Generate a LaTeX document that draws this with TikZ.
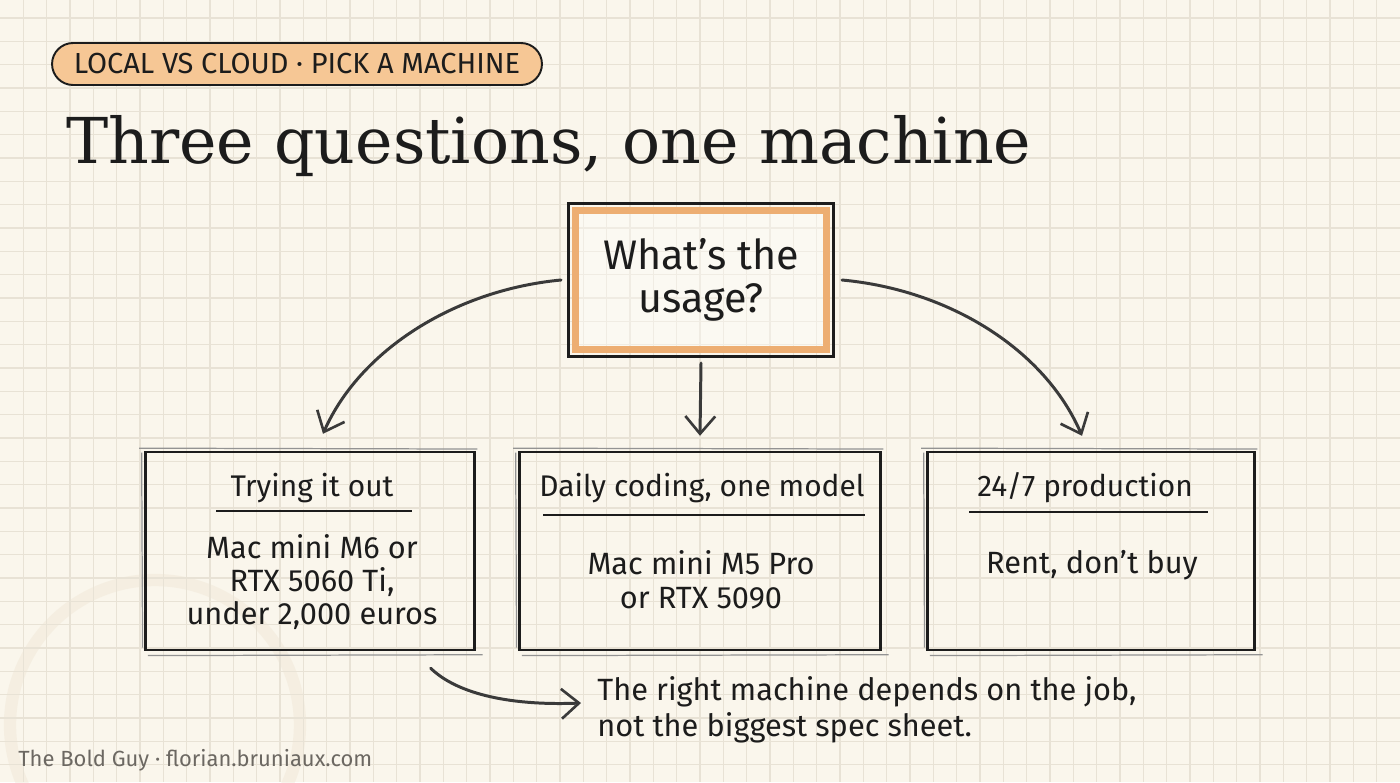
\documentclass[tikz,border=0pt]{standalone}
\usepackage{fontspec}
\setmainfont{Fira Sans}
\newfontfamily\titlefont{DejaVu Serif}
\usepackage{tikz}
\usetikzlibrary{positioning, arrows.meta}
\definecolor{paper}{HTML}{FAF6EC}
\definecolor{gridc}{HTML}{E8E2D5}
\definecolor{ink}{HTML}{1C1C1C}
\definecolor{pencil}{HTML}{3A3A3A}
\definecolor{tagorange}{HTML}{F6C795}
\definecolor{qorange}{HTML}{EDAE72}
\definecolor{footgray}{HTML}{6C6862}
\definecolor{stain}{HTML}{EEE4D2}

\begin{document}
\begin{tikzpicture}[x=0.02cm,y=-0.02cm,
  every node/.style={inner sep=0pt,text=ink},
  tag/.style={draw=ink,line width=1.1pt,fill=tagorange,rounded corners=0.42cm,minimum width=9.8cm,minimum height=0.84cm,font=\fontsize{16.5}{19}\selectfont},
  qbox/.style={draw=qorange,line width=4pt,fill=white,fill opacity=0.35,text opacity=1,minimum width=5.02cm,minimum height=2.78cm,align=center,font=\fontsize{23.5}{24.5}\selectfont},
  card/.style={draw=ink,line width=1.4pt,minimum height=3.96cm},
  head/.style={font=\fontsize{17}{20}\selectfont},
  body/.style={align=center,font=\fontsize{17.5}{19}\selectfont},
  note/.style={align=left,font=\fontsize{17.5}{20.5}\selectfont},
  rule/.style={draw=ink,line width=0.9pt},
  sketch/.style={draw=pencil!55,line width=0.7pt},
  curvy/.style={draw=pencil,line width=1.7pt,line cap=round,-{Straight Barb[length=10pt,width=17pt,line width=1.5pt]}}]
  \useasboundingbox (0,0) rectangle (1400,782);
  \fill[paper] (0,0) rectangle (1400,782);
  \draw[stain,line width=7pt,opacity=0.4] (155,725) circle (2.9cm);
  \foreach \i in {1,...,59} \draw[gridc,line width=0.6pt] (\i*23.333,0) -- (\i*23.333,782);
  \foreach \j in {0,...,32} \draw[gridc,line width=0.6pt] (0,18+\j*23.333) -- (1400,18+\j*23.333);

  \node[tag] (tag) at (297,64) {LOCAL VS CLOUD · PICK A MACHINE};
  \node[anchor=base west,font=\titlefont\fontsize{36}{43}\selectfont] (title) at (66,163) {Three questions, one machine};

  \node[qbox] (usage) at (701,280) {What’s the\\usage?};
  \draw[ink,line width=1.2pt] ([shift={(-2pt,2pt)}]usage.north west) rectangle ([shift={(2pt,-2pt)}]usage.south east);

  \node[card,minimum width=6.58cm] (try) at (310,551) {};
  \node[card,minimum width=7.22cm] (daily) at (700,551) {};
  \node[card,minimum width=6.54cm] (prod) at (1091,551) {};
  \foreach \c in {try,daily,prod} {
    \draw[sketch] ([shift={(2pt,-2.5pt)}]\c.south west) -- ([shift={(4pt,-2pt)}]\c.south east);
    \draw[sketch] ([shift={(-1.5pt,-1pt)}]\c.north west) -- ([shift={(-1pt,2pt)}]\c.south west);
    \draw[sketch] ([shift={(-3pt,1.5pt)}]\c.north west) -- ([shift={(1pt,1pt)}]\c.north east);
  }

  \node[head] (tryhead) at (312,488) {Trying it out};
  \node[head] (dailyhead) at (702,488) {Daily coding, one model};
  \node[head] (prodhead) at (1085,488) {24/7 production};
  \draw[rule] (216,511) -- (412,511);
  \draw[rule] (543,515) -- (865,515);
  \draw[rule] (969,512) -- (1208,512);

  \node[body] (trybody) at (312,582) {Mac mini M6 or\\RTX 5060 Ti,\\under 2,000 euros};
  \node[body] (dailybody) at (701,580) {Mac mini M5 Pro\\or RTX 5090};
  \node[body] (prodbody) at (1092,565) {Rent, don’t buy};

  \draw[curvy] ([xshift=-0.22cm]usage.west) .. controls (455,290) and (360,350) .. ([shift={(0.26cm,0.34cm)}]try.north);
  \draw[curvy] ([yshift=-0.2cm]usage.south) -- ([yshift=0.3cm]daily.north);
  \draw[curvy] ([xshift=0.24cm]usage.east) .. controls (950,290) and (1045,350) .. ([shift={(-0.18cm,0.3cm)}]prod.north);

  \node[note,anchor=west] (note) at (597,710) {The right machine depends on the job,\\not the biggest spec sheet.};
  \draw[curvy] ([shift={(-0.9cm,-0.34cm)}]try.south east) .. controls (455,692) and (505,706) .. ([shift={(-0.32cm,0.14cm)}]note.west);

  \node[anchor=base west,text=footgray,font=\fontsize{12.5}{15}\selectfont] (foot) at (18,766) {The Bold Guy · florian.bruniaux.com};
\end{tikzpicture}
\end{document}
